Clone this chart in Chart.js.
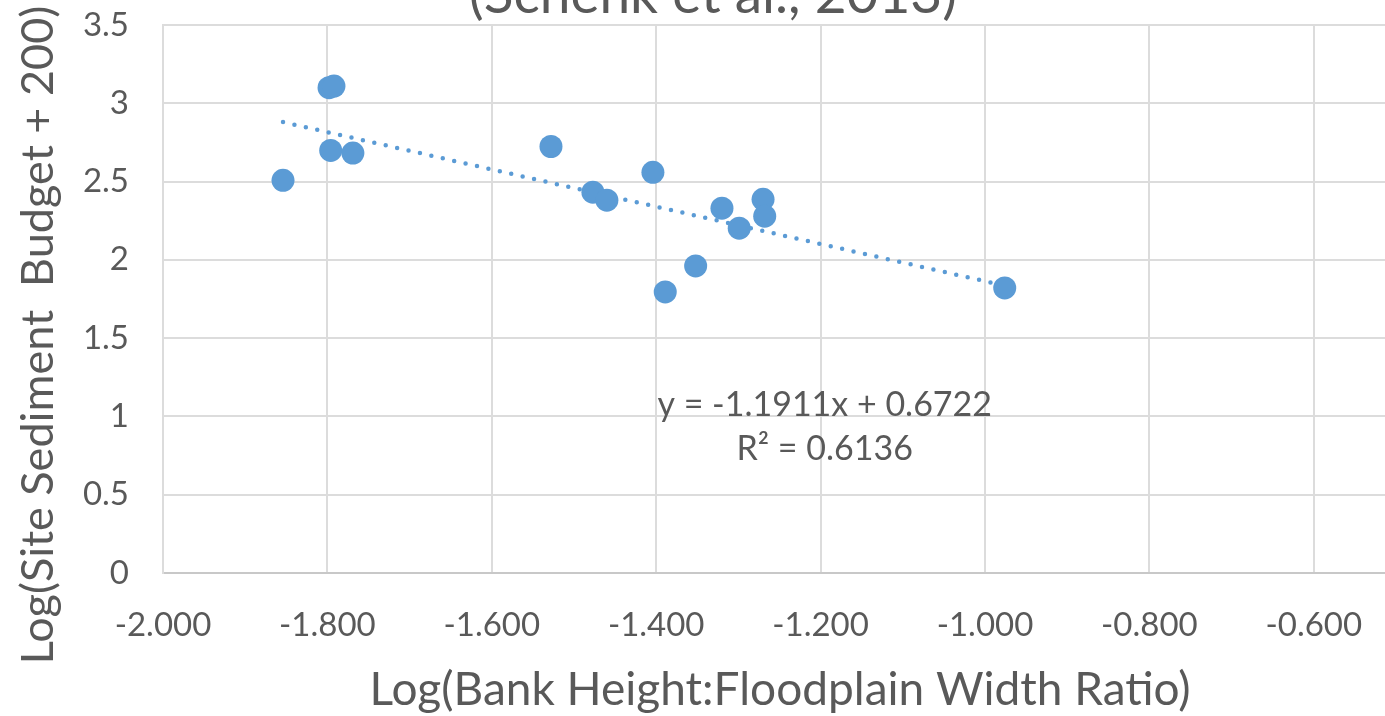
<!DOCTYPE html>
<html>
<head>
<meta charset="utf-8">
<title>Bank height ratio vs sediment budget</title>
<script src="https://cdn.jsdelivr.net/npm/chart.js@4.4.0/dist/chart.umd.min.js"></script>
<style>
  html, body { margin: 0; padding: 0; overflow: hidden; background: #fff; }
  /* the original picture is cropped at the top (title) and on the right */
  #wrap { position: absolute; left: 0; top: -30px; width: 1426px; height: 746px; }
</style>
</head>
<body>
<div id="wrap"><canvas id="chart"></canvas></div>
<script>
// log(bank height : floodplain width ratio) per site
const logRatio  = [-1.854, -1.798, -1.792, -1.796, -1.769, -1.528, -1.477, -1.460, -1.404, -1.389, -1.352, -1.320, -1.299, -1.270, -1.268, -0.976];
// log(site sediment budget + 200) per site
const logBudget = [ 2.508,  3.100,  3.110,  2.699,  2.682,  2.724,  2.432,  2.381,  2.559,  1.795,  1.961,  2.330,  2.202,  2.387,  2.279,  1.821];

// linear trendline, end points as drawn
const trendX = [-1.854, -0.976];
const trendY = [ 2.880,  1.835];

const equationLines = ['y = -1.1911x + 0.6722', 'R² = 0.6136'];

const xTickValues = [-2.0, -1.8, -1.6, -1.4, -1.2, -1.0, -0.8, -0.6];
const xTickLabels = ['-2.000', '-1.800', '-1.600', '-1.400', '-1.200', '-1.000', '-0.800', '-0.600'];
const yTickValues = [0, 0.5, 1, 1.5, 2, 2.5, 3, 3.5];
const yTickLabels = ['0', '0.5', '1', '1.5', '2', '2.5', '3', '3.5'];

const chartTitle = '(Schenk et al., 2013)';
const xTitle = 'Log(Bank Height:Floodplain Width Ratio)';
const yTitle = 'Log(Site Sediment  Budget + 200)';

const BLUE = '#5B9BD5';
const TEXT = '#595959';
const GRID = '#dcdcdc';

// axis titles + trendline equation
const textLayer = {
  id: 'textLayer',
  afterDraw(chart) {
    const { ctx, chartArea: a, scales: { x, y } } = chart;
    ctx.save();
    ctx.fillStyle = TEXT;
    ctx.textAlign = 'center';
    ctx.textBaseline = 'middle';

    ctx.font = '34px Lato';
    const ex = x.getPixelForValue(-1.195);
    ctx.fillText(equationLines[0], ex, y.getPixelForValue(1.075));
    ctx.fillText(equationLines[1], ex, y.getPixelForValue(0.789));

    ctx.font = '46px Lato';
    ctx.fillText(xTitle, a.left + 617, a.bottom + 117);
    ctx.font = '45px Lato';
    ctx.translate(38, a.top + 310);
    ctx.rotate(-Math.PI / 2);
    ctx.fillText(yTitle, 0, 0);
    ctx.restore();
  }
};

const points = logRatio.map((v, i) => ({ x: v, y: logBudget[i] }));
const trend = trendX.map((v, i) => ({ x: v, y: trendY[i] }));

new Chart(document.getElementById('chart'), {
  type: 'scatter',
  data: {
    datasets: [
      {
        label: 'Sites',
        data: points,
        backgroundColor: BLUE,
        borderColor: BLUE,
        borderWidth: 0,
        pointRadius: 11.5,
        order: 1
      },
      {
        label: 'Linear trend',
        data: trend,
        showLine: true,
        borderColor: BLUE,
        borderWidth: 4.5,
        borderDash: [0, 11.7],
        borderCapStyle: 'round',
        pointRadius: 0,
        order: 2
      }
    ]
  },
  options: {
    responsive: true,
    maintainAspectRatio: false,
    animation: false,
    events: [],
    layout: { padding: 0, autoPadding: false },
    plugins: {
      legend: { display: false },
      tooltip: { enabled: false },
      title: {
        display: true,
        text: chartTitle,
        color: TEXT,
        font: { family: 'Lato', size: 55, weight: 'normal', lineHeight: 1 },
        padding: { top: -2, bottom: 2 }
      }
    },
    scales: {
      x: {
        type: 'linear',
        min: -2,
        max: -0.4635,
        afterBuildTicks: s => { s.ticks = xTickValues.map(v => ({ value: v })); },
        afterFit: s => { s.height = 143; s.paddingLeft = 0; s.paddingRight = 0; },
        ticks: {
          color: TEXT,
          font: { family: 'Lato', size: 33 },
          padding: 33,
          maxRotation: 0,
          autoSkip: false,
          callback: (v, i) => xTickLabels[i]
        },
        grid: { color: GRID, lineWidth: 2, drawTicks: false },
        border: { color: '#c8c8c8', width: 2 }
      },
      y: {
        min: 0,
        max: 3.5,
        afterBuildTicks: s => { s.ticks = yTickValues.map(v => ({ value: v })); },
        afterFit: s => { s.width = 163; },
        ticks: {
          color: TEXT,
          font: { family: 'Lato', size: 33 },
          padding: 34,
          autoSkip: false,
          callback: (v, i) => yTickLabels[i]
        },
        grid: { color: GRID, lineWidth: 2, drawTicks: false },
        border: { color: GRID, width: 2 }
      }
    }
  },
  plugins: [textLayer]
});
</script>
</body>
</html>
